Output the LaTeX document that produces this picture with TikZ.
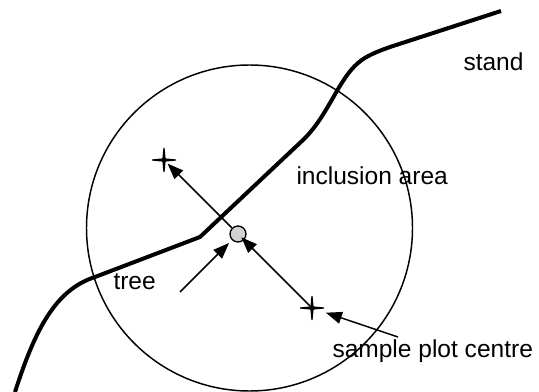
\documentclass[tikz,border=0pt]{standalone}
\usepackage{fontspec}
\setmainfont{Liberation Sans}
\usetikzlibrary{arrows.meta}

\tikzset{every picture/.style={line width=0.75pt}}
\tikzset{
  thinline/.style={line width=1.1pt},
  standline/.style={line width=3pt, line join=round},
  pointer/.style={line width=1.1pt, -{Triangle[length=12pt,width=9pt]}},
  label text/.style={anchor=base west, inner sep=0pt},
}
% tapered cross used for the plot marks
\newcommand{\plotstar}[1]{\fill [shift={(#1)}] (-0.6,-12) -- (0.6,-12) -- (1.6,-1.6) -- (12,-0.6) -- (12,0.6) -- (1.6,1.6) -- (0.6,12) -- (-0.6,12) -- (-1.6,1.6) -- (-12,0.6) -- (-12,-0.6) -- (-1.6,-1.6) -- cycle ;}

\begin{document}
\begin{tikzpicture}[x=0.75pt,y=0.75pt,yscale=-1,xscale=1,font=\fontsize{18.4}{22}\selectfont]
\useasboundingbox (0,0) rectangle (539,392);

%Shape: Circle [inclusion area]
\draw [thinline] (249.5,228) circle (163) ;
%Curve Lines [stand boundary]
\draw [standline] (15,392) .. controls (35,330) and (55,290) .. (95,277) -- (200,237) -- (303,140) .. controls (328,116) and (338,80) .. (358,63) .. controls (366,56) and (376,52) .. (390,47) -- (501,11) ;

% marks and centre
\coordinate (upper mark) at (164,160) ;
\coordinate (lower mark) at (312,308) ;
\coordinate (tree tail) at (180,292) ;
\coordinate (centre tail) at (398,337) ;
\node [circle, draw, line width=1pt, fill={rgb,255:red,210;green,210;blue,210}, minimum size=12pt, inner sep=0pt] (tree) at (238,234) {} ;
%Shape: Cross [upper mark]
\plotstar{upper mark}
%Shape: Cross [lower mark]
\plotstar{lower mark}

%Straight Lines
\draw [pointer, shorten >=3.75pt] (tree) -- (upper mark) ;
\draw [pointer, shorten <=2pt, shorten >=3.5pt] (lower mark) -- (tree.center) ;
\draw [pointer, shorten >=3pt] (tree tail) -- (tree) ;
\draw [pointer, shorten >=11pt] (centre tail) -- (lower mark) ;

% Text Node
\draw (463,71) node [label text] (stand) {stand};
% Text Node
\draw (296,185) node [label text] (inclusion) {inclusion area};
% Text Node
\draw (113,289) node [label text] (tree label) {tree};
% Text Node
\draw (332,357) node [label text] (centre label) {sample plot centre};

\end{tikzpicture}
\end{document}
